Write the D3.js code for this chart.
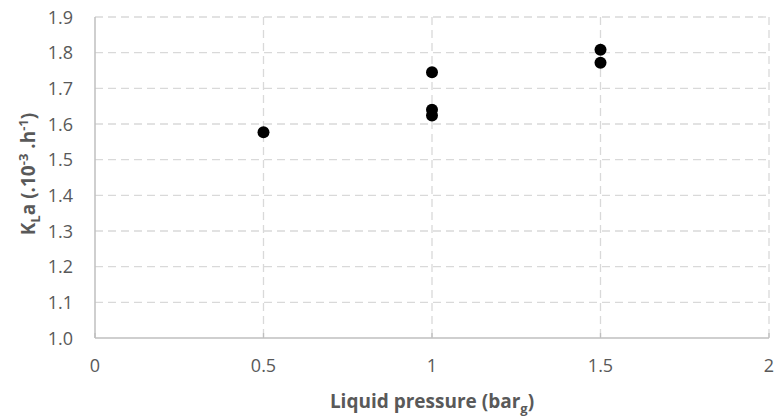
<!DOCTYPE html>
<html>
<head>
<meta charset="utf-8">
<script src="https://cdn.jsdelivr.net/npm/d3@7"></script>
<style>
  body { margin: 0; background: #fff; }
  text { font-family: "Open Sans", "Noto Sans", sans-serif; fill: #595959; }
</style>
</head>
<body>
<script>
(function (){

    //data
    var pressure = [0.5, 1.0, 1.0, 1.0, 1.5, 1.5];
    var kla = [1.577, 1.745, 1.640, 1.624, 1.808, 1.772];
    var xTicks = [0, 0.5, 1, 1.5, 2];
    var yTicks = [1.0, 1.1, 1.2, 1.3, 1.4, 1.5, 1.6, 1.7, 1.8, 1.9];

    window.onload = drawChart();

    function drawChart(){
        var width = 776, height = 419;
        var left = 95, right = 769, top = 17, bottom = 338;

        var svg = d3.select("body")
            .append("svg")
            .attr("width", width)
            .attr("height", height);

        var x = d3.scaleLinear().domain([0, 2]).range([left, right]);
        var y = d3.scaleLinear().domain([1.0, 1.9]).range([bottom, top]);

        //horizontal grid lines
        svg.selectAll(".hgrid")
            .data(yTicks.slice(1))
            .enter()
            .append("line")
            .attr("x1", left).attr("x2", right)
            .attr("y1", function(d){ return y(d); })
            .attr("y2", function(d){ return y(d); })
            .style("stroke", "#d9d9d9")
            .style("stroke-width", 1.3)
            .style("stroke-dasharray", "8,5");

        //vertical grid lines
        svg.selectAll(".vgrid")
            .data(xTicks.slice(1))
            .enter()
            .append("line")
            .attr("y1", top).attr("y2", bottom)
            .attr("x1", function(d){ return x(d); })
            .attr("x2", function(d){ return x(d); })
            .style("stroke", "#d9d9d9")
            .style("stroke-width", 1.3)
            .style("stroke-dasharray", "8,5");

        //axis lines
        svg.append("line")
            .attr("x1", left).attr("x2", left)
            .attr("y1", top).attr("y2", bottom)
            .style("stroke", "#bfbfbf").style("stroke-width", 1.5);
        svg.append("line")
            .attr("x1", left).attr("x2", right)
            .attr("y1", bottom).attr("y2", bottom)
            .style("stroke", "#bfbfbf").style("stroke-width", 1.5);

        //x tick marks
        svg.selectAll(".xtick")
            .data(xTicks)
            .enter()
            .append("line")
            .attr("x1", function(d){ return x(d); })
            .attr("x2", function(d){ return x(d); })
            .attr("y1", bottom).attr("y2", bottom - 5)
            .style("stroke", "#bfbfbf").style("stroke-width", 1.3);

        //tick labels
        svg.selectAll(".xlab")
            .data(xTicks)
            .enter()
            .append("text")
            .attr("x", function(d){ return x(d); })
            .attr("y", 372)
            .attr("text-anchor", "middle")
            .style("font-size", "18px")
            .text(function(d){ return d; });

        svg.selectAll(".ylab")
            .data(yTicks)
            .enter()
            .append("text")
            .attr("x", 73)
            .attr("y", function(d){ return y(d) + 6.5; })
            .attr("text-anchor", "end")
            .style("font-size", "18px")
            .text(function(d){ return d.toFixed(1); });

        //points
        svg.selectAll(".dot")
            .data(pressure)
            .enter()
            .append("circle")
            .attr("cx", function(d){ return x(d); })
            .attr("cy", function(d, i){ return y(kla[i]); })
            .attr("r", 6)
            .style("fill", "#000");

        //axis titles
        var xt = svg.append("text")
            .attr("x", x(1))
            .attr("y", 408)
            .attr("text-anchor", "middle")
            .style("font-size", "19px")
            .style("font-weight", "bold");
        xt.append("tspan").text("Liquid pressure (bar");
        xt.append("tspan").attr("dy", 5).style("font-size", "13px").text("g");
        xt.append("tspan").attr("dy", -5).text(")");

        var yt = svg.append("text")
            .attr("transform", "translate(35," + 174 + ") rotate(-90)")
            .attr("text-anchor", "middle")
            .style("font-size", "19px")
            .style("font-weight", "bold");
        yt.append("tspan").text("K");
        yt.append("tspan").attr("dy", 5).style("font-size", "13px").text("L");
        yt.append("tspan").attr("dy", -5).text("a (.10");
        yt.append("tspan").attr("dy", -7).style("font-size", "13px").text("-3");
        yt.append("tspan").attr("dy", 7).text(" .h");
        yt.append("tspan").attr("dy", -7).style("font-size", "13px").text("-1");
        yt.append("tspan").attr("dy", 7).text(")");
    }

})();
</script>
</body>
</html>
